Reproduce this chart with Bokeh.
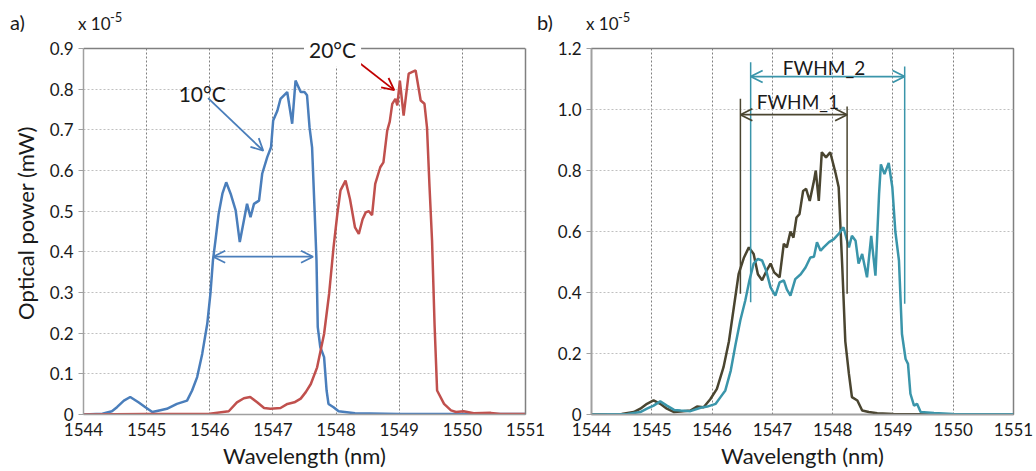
from bokeh.plotting import figure
from bokeh.layouts import row, column
from bokeh.models import (FixedTicker, Label, Arrow, OpenHead, Range1d, Div, Span,
                          BoxAnnotation, LinearAxis)
from bokeh.embed import file_html
from bokeh.resources import INLINE

FONT = "Lato"
TXT = "#1a1a1a"
GRAY_AX = "#a0a0a0"
GRAY_BOX = "#808080"

# ---------------- axes / ticks ----------------
x_ticks = [1544, 1545, 1546, 1547, 1548, 1549, 1550, 1551]
a_y_ticks = [0, 0.1, 0.2, 0.3, 0.4, 0.5, 0.6, 0.7, 0.8, 0.9]
a_y_labels = ["0", "0.1", "0.2", "0.3", "0.4", "0.5", "0.6", "0.7", "0.8", "0.9"]
b_y_ticks = [0, 0.2, 0.4, 0.6, 0.8, 1.0, 1.2]
b_y_labels = ["0", "0.2", "0.4", "0.6", "0.8", "1.0", "1.2"]
a_ymax = 0.9
b_ymax = 1.2

# ---------------- panel a) data (x 1e-5 mW) ----------------
t10_wl = [1544.0, 1544.3, 1544.45, 1544.53, 1544.64, 1544.74, 1544.87, 1544.98, 1545.09, 1545.2,
          1545.32, 1545.48, 1545.64, 1545.72, 1545.80, 1545.88, 1545.96, 1546.01, 1546.05, 1546.09,
          1546.14, 1546.20, 1546.26, 1546.33, 1546.41, 1546.475, 1546.54, 1546.59, 1546.645, 1546.70,
          1546.78, 1546.83, 1546.91, 1546.97, 1547.004, 1547.07, 1547.12, 1547.226, 1547.305, 1547.358,
          1547.44, 1547.50, 1547.54, 1547.58, 1547.62, 1547.66, 1547.69, 1547.71, 1547.75, 1547.81,
          1547.85, 1547.88, 1547.96, 1548.04, 1548.3, 1549.0, 1550.0, 1551.0]
t10_pw = [0.0, 0.002, 0.008, 0.018, 0.034, 0.043, 0.03, 0.018, 0.006, 0.01,
          0.014, 0.026, 0.034, 0.059, 0.092, 0.149, 0.223, 0.297, 0.379, 0.428,
          0.493, 0.543, 0.571, 0.543, 0.502, 0.424, 0.477, 0.518, 0.485, 0.518,
          0.526, 0.592, 0.633, 0.657, 0.723, 0.747, 0.776, 0.793, 0.715, 0.821,
          0.793, 0.793, 0.785, 0.706, 0.657, 0.502, 0.379, 0.215, 0.166, 0.141,
          0.059, 0.026, 0.018, 0.008, 0.003, 0.001, 0.001, 0.001]

t20_wl = [1544.0, 1545.0, 1546.0, 1546.3, 1546.43, 1546.54, 1546.64, 1546.75, 1546.86, 1546.96,
          1547.12, 1547.23, 1547.34, 1547.44, 1547.52, 1547.6, 1547.7, 1547.81, 1547.89, 1547.96,
          1548.02, 1548.07, 1548.15, 1548.22, 1548.3, 1548.36, 1548.42, 1548.47, 1548.52, 1548.57,
          1548.62, 1548.7, 1548.75, 1548.81, 1548.85, 1548.89, 1548.94, 1548.97, 1549.01, 1549.07,
          1549.15, 1549.26, 1549.34, 1549.40, 1549.44, 1549.48, 1549.52, 1549.56, 1549.60, 1549.71,
          1549.82, 1549.9, 1550.02, 1550.18, 1550.45, 1550.6, 1551.0]
t20_pw = [0.0, 0.001, 0.002, 0.008, 0.03, 0.04, 0.043, 0.03, 0.016, 0.014,
          0.016, 0.026, 0.03, 0.039, 0.055, 0.075, 0.116, 0.198, 0.297, 0.411,
          0.493, 0.551, 0.575, 0.53, 0.46, 0.444, 0.48, 0.497, 0.50, 0.49,
          0.567, 0.608, 0.62, 0.698, 0.72, 0.764, 0.776, 0.76, 0.821, 0.735,
          0.838, 0.846, 0.772, 0.764, 0.706, 0.56, 0.428, 0.22, 0.059, 0.026,
          0.01, 0.006, 0.008, 0.003, 0.004, 0.001, 0.001]

# ---------------- panel b) data (x 1e-5 mW) ----------------
f1_wl = [1544.0, 1544.5, 1544.70, 1544.81, 1544.92, 1545.03, 1545.14, 1545.25, 1545.37, 1545.48,
         1545.64, 1545.75, 1545.86, 1545.97, 1546.08, 1546.19, 1546.28, 1546.36, 1546.44, 1546.53,
         1546.61, 1546.69, 1546.76, 1546.83, 1546.90, 1546.97, 1547.03, 1547.12, 1547.19, 1547.24,
         1547.30, 1547.35, 1547.40, 1547.45, 1547.51, 1547.56, 1547.62, 1547.69, 1547.72, 1547.77,
         1547.82, 1547.89, 1547.96, 1548.05, 1548.10, 1548.16, 1548.21, 1548.27, 1548.32, 1548.41,
         1548.49, 1548.60, 1548.74, 1549.01, 1550.0, 1551.0]
f1_pw = [0.0, 0.002, 0.008, 0.019, 0.035, 0.046, 0.035, 0.019, 0.008, 0.01,
         0.013, 0.026, 0.024, 0.05, 0.084, 0.155, 0.24, 0.35, 0.46, 0.515,
         0.548, 0.526, 0.46, 0.44, 0.47, 0.495, 0.466, 0.45, 0.56, 0.548,
         0.60, 0.58, 0.646, 0.657, 0.733, 0.74, 0.70, 0.766, 0.80, 0.70,
         0.86, 0.843, 0.86, 0.79, 0.745, 0.483, 0.24, 0.133, 0.057, 0.046,
         0.013, 0.008, 0.004, 0.002, 0.001, 0.001]

f2_wl = [1544.0, 1544.6, 1544.81, 1544.92, 1545.03, 1545.14, 1545.25, 1545.37, 1545.48, 1545.64,
         1545.81, 1545.92, 1546.06, 1546.14, 1546.22, 1546.31, 1546.39, 1546.47, 1546.55, 1546.62,
         1546.69, 1546.76, 1546.83, 1546.90, 1546.97, 1547.05, 1547.12, 1547.19, 1547.24, 1547.30,
         1547.38, 1547.47, 1547.55, 1547.63, 1547.69, 1547.74, 1547.80, 1547.85, 1547.94, 1548.02,
         1548.10, 1548.18, 1548.27, 1548.32, 1548.38, 1548.43, 1548.49, 1548.57, 1548.64, 1548.71,
         1548.77, 1548.80, 1548.86, 1548.93, 1548.99, 1549.04, 1549.10, 1549.15, 1549.21, 1549.25,
         1549.29, 1549.35, 1549.40, 1549.46, 1549.68, 1550.0, 1551.0]
f2_pw = [0.0, 0.002, 0.008, 0.019, 0.029, 0.043, 0.029, 0.015, 0.013, 0.011,
         0.022, 0.026, 0.035, 0.057, 0.079, 0.144, 0.23, 0.31, 0.373, 0.44,
         0.495, 0.51, 0.505, 0.47, 0.417, 0.39, 0.433, 0.44, 0.41, 0.39,
         0.444, 0.46, 0.482, 0.515, 0.517, 0.565, 0.537, 0.548, 0.565, 0.575,
         0.592, 0.614, 0.548, 0.586, 0.57, 0.495, 0.526, 0.45, 0.586, 0.455,
         0.723, 0.82, 0.788, 0.825, 0.745, 0.60, 0.505, 0.264, 0.182, 0.166,
         0.068, 0.029, 0.035, 0.008, 0.005, 0.002, 0.001]

# ---------------- annotation anchors (data units) ----------------
a_fwhm_x = [1546.054, 1547.635]
a_fwhm_y = 0.388
arrow10_xy = [1545.973, 0.778, 1546.847, 0.6486]
arrow20_xy = [1548.225, 0.882, 1548.922, 0.7977]
label10_xy = [1545.88, 0.79]
label20_xy = [1547.944, 0.898]

fwhm1_x = [1546.47, 1548.24]
fwhm1_top = [1.035, 1.01]
fwhm1_bot = [0.396, 0.396]
fwhm1_arrow_y = 0.983
fwhm1_label_xy = [1547.423, 1.026]
fwhm2_x = [1546.64, 1549.195]
fwhm2_top = [1.155, 1.141]
fwhm2_bot = [0.368, 0.363]
fwhm2_arrow_y = 1.108
fwhm2_label_xy = [1547.857, 1.1387]

BLUE = "#4a7ebb"
RED = "#c0504d"
DARK = "#4a4530"
TEAL = "#3a95aa"

# ---------------- page geometry (px) ----------------
PAGE_H = 471
HEAD_H = 31          # header strip with "a)" / "x 10^-5"
FRAME_TOP = 48       # y of the top of the plotting box on the page
FRAME_BOT = 414      # y of the x axis on the page
FIG_H = PAGE_H - HEAD_H
BOTTOM = PAGE_H - FRAME_BOT
A_W = 545            # width of panel a (its last tick label needs room)
B_W = 1036 - A_W


def style_axes(p):
    p.background_fill_color = "white"
    p.border_fill_color = "white"
    p.xaxis.ticker = FixedTicker(ticks=x_ticks)
    for ax in (p.xaxis, p.yaxis):
        ax.axis_line_color = GRAY_AX
        ax.axis_line_width = 1.5
        ax.minor_tick_line_color = None
        ax.major_tick_in = 0
        ax.major_label_text_font = FONT
        ax.major_label_text_font_size = "17px"
        ax.major_label_text_color = TXT
        ax.axis_label_text_font = FONT
        ax.axis_label_text_font_size = "22px"
        ax.axis_label_text_color = TXT
        ax.axis_label_text_font_style = "normal"
    p.xaxis.major_tick_out = 0
    p.xaxis.major_label_standoff = 8
    p.xaxis.axis_label_standoff = 3
    p.yaxis.major_tick_out = 5
    p.yaxis.major_tick_line_color = GRAY_AX
    p.yaxis.major_label_standoff = 5
    p.xgrid.grid_line_color = "#808080"
    p.xgrid.grid_line_dash = "2 2"
    p.ygrid.grid_line_color = "#c0c0c0"
    p.ygrid.grid_line_dash = "2 2"
    p.xaxis.axis_label = "Wavelength (nm)"


def add_text(p, x, y, text, size, color=TXT, align="center", **kw):
    p.add_layout(Label(x=x, y=y, text=text, text_font=FONT, text_font_size=size,
                       text_color=color, text_align=align, text_baseline="alphabetic", **kw))


def add_arrow(p, x0, y0, x1, y1, color, both=False, width=1.8):
    head = dict(size=12, line_color=color, line_width=width)
    p.add_layout(Arrow(x_start=x0, y_start=y0, x_end=x1, y_end=y1,
                       line_color=color, line_width=width,
                       start=OpenHead(**head) if both else None,
                       end=OpenHead(**head)))


SPAN = 'position:absolute;white-space:nowrap;'


def tag_html(tag, left):
    return f'<span style="{SPAN}left:{left}px;top:12px;font-size:20px;line-height:20px;">{tag}</span>'


def exp_html(left):
    return (f'<span style="{SPAN}left:{left}px;top:15px;font-size:17px;line-height:17px;">x 10</span>'
            f'<span style="{SPAN}left:{left + 32}px;top:11px;font-size:13px;line-height:13px;">-5</span>')


def header(width, inner):
    html = (f'<div style="position:relative;width:{width}px;height:{HEAD_H}px;'
            f'font-family:Lato;color:{TXT};">{inner}</div>')
    return Div(text=html, width=width, height=HEAD_H, styles={"margin": "0", "padding": "0"})


# ---------------- panel a ----------------
# the plotting box reaches up into the top margin so that the "20°C" tag can sit on the frame line
a_top = a_ymax * (FRAME_BOT - HEAD_H) / (FRAME_BOT - FRAME_TOP)
pa = figure(width=A_W, height=FIG_H, x_range=Range1d(1544, 1551), y_range=Range1d(0, a_top),
            output_backend="svg", toolbar_location=None, title=None,
            min_border_left=83, min_border_right=A_W - 525, min_border_top=0,
            min_border_bottom=BOTTOM)
style_axes(pa)
pa.outline_line_color = None
pa.yaxis.ticker = FixedTicker(ticks=a_y_ticks)
pa.yaxis.major_label_overrides = {t: l for t, l in zip(a_y_ticks, a_y_labels)}
pa.yaxis.bounds = (0, a_ymax)
pa.yaxis.axis_label = "Optical power (mW)"
pa.yaxis.axis_label_standoff = 8
pa.add_layout(BoxAnnotation(bottom=a_ymax, fill_color="white", fill_alpha=1.0,
                            line_color=None, level="underlay"))
pa.add_layout(LinearAxis(ticker=FixedTicker(ticks=[]), bounds=(0, a_ymax),
                         axis_line_color=GRAY_BOX, axis_line_width=1.5,
                         major_tick_out=0, major_tick_in=0, major_label_standoff=0,
                         major_label_text_font_size="0px", minor_tick_line_color=None), "right")
pa.add_layout(Span(location=a_ymax, dimension="width", line_color=GRAY_BOX, line_width=1.5))

pa.line(t10_wl, t10_pw, line_color=BLUE, line_width=2.5)
pa.line(t20_wl, t20_pw, line_color=RED, line_width=2.5)
add_arrow(pa, a_fwhm_x[0], a_fwhm_y, a_fwhm_x[1], a_fwhm_y, BLUE, both=True)
add_arrow(pa, *arrow10_xy, BLUE)
add_arrow(pa, *arrow20_xy, "#c00000")
add_text(pa, label10_xy[0], label10_xy[1], "10°C", "21px")
add_text(pa, label20_xy[0], label20_xy[1], "20°C", "21px",
         background_fill_color="white", padding=5)

# ---------------- panel b ----------------
pb = figure(width=B_W, height=FIG_H, x_range=Range1d(1544, 1551), y_range=Range1d(0, b_ymax),
            output_backend="svg", toolbar_location=None, title=None,
            min_border_left=591 - A_W, min_border_right=1036 - 1013, min_border_top=FRAME_TOP - HEAD_H,
            min_border_bottom=BOTTOM)
style_axes(pb)
pb.outline_line_color = GRAY_BOX
pb.outline_line_width = 1.5
pb.yaxis.ticker = FixedTicker(ticks=b_y_ticks)
pb.yaxis.major_label_overrides = {t: l for t, l in zip(b_y_ticks, b_y_labels)}

pb.line(f1_wl, f1_pw, line_color=DARK, line_width=2.5)
pb.line(f2_wl, f2_pw, line_color=TEAL, line_width=2.5)
pb.segment(x0=fwhm1_x, y0=fwhm1_bot, x1=fwhm1_x, y1=fwhm1_top, line_color=DARK, line_width=1.5)
pb.segment(x0=fwhm2_x, y0=fwhm2_bot, x1=fwhm2_x, y1=fwhm2_top, line_color=TEAL, line_width=1.5)
add_arrow(pb, fwhm1_x[0], fwhm1_arrow_y, fwhm1_x[1], fwhm1_arrow_y, DARK, both=True)
add_arrow(pb, fwhm2_x[0], fwhm2_arrow_y, fwhm2_x[1], fwhm2_arrow_y, TEAL, both=True)
add_text(pb, fwhm1_label_xy[0], fwhm1_label_xy[1], "FWHM_1", "19px")
add_text(pb, fwhm2_label_xy[0], fwhm2_label_xy[1], "FWHM_2", "19px")

# "b)" sits at x=537 on the page, just left of where panel b's canvas starts
head_a = header(A_W, tag_html("a)", 10) + exp_html(78) + tag_html("b)", 537))
head_b = header(B_W, exp_html(586 - A_W))
layout = row(column(head_a, pa), column(head_b, pb))
open("out.html", "w").write(file_html(layout, INLINE))
